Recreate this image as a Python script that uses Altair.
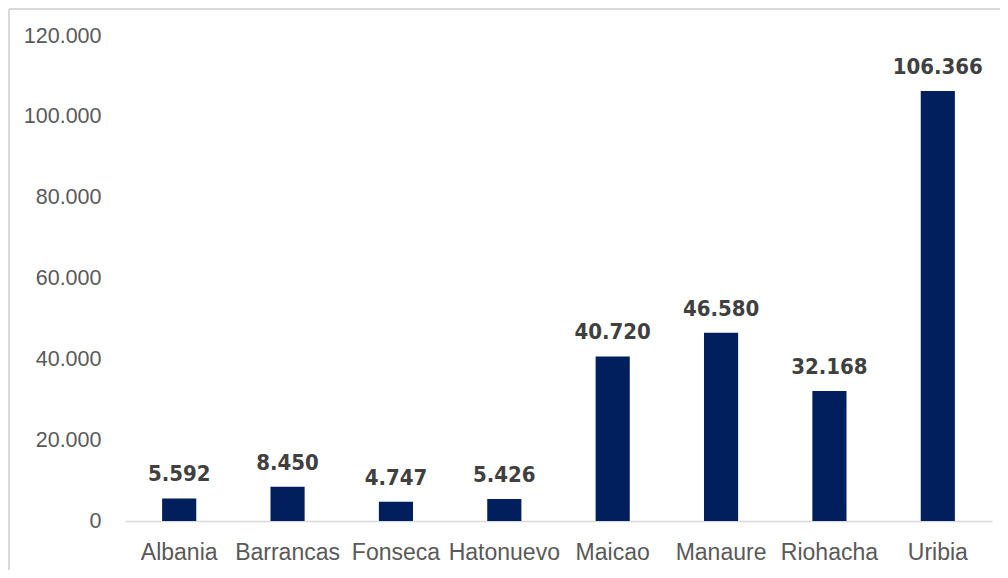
import altair as alt
import pandas as pd

municipios = ["Albania", "Barrancas", "Fonseca", "Hatonuevo", "Maicao", "Manaure", "Riohacha", "Uribia"]
valores = [5592, 8450, 4747, 5426, 40720, 46580, 32168, 106366]
etiquetas = ["5.592", "8.450", "4.747", "5.426", "40.720", "46.580", "32.168", "106.366"]

df = pd.DataFrame({"m": municipios, "v": valores, "lab": etiquetas})

x = alt.X("m:N", sort=municipios, title=None,
          scale=alt.Scale(paddingInner=0.685, paddingOuter=0.3425),
          axis=alt.Axis(labelAngle=0, labelFont="Liberation Sans", labelFontSize=23,
                        labelColor="#595959", labelPadding=20, ticks=False,
                        domainColor="#d9d9d9", domainWidth=1.5))
y = alt.Y("v:Q", title=None,
          scale=alt.Scale(domain=[0, 120000], nice=False),
          axis=alt.Axis(values=[0, 20000, 40000, 60000, 80000, 100000, 120000],
                        labelExpr="replace(format(datum.value, ',d'), ',', '.')",
                        labelFont="Liberation Sans", labelFontSize=21.5, labelColor="#595959",
                        labelPadding=24, ticks=False, domain=False, grid=False))

bars = alt.Chart(df).mark_bar(color="#001f5c").encode(x=x, y=y)

text = alt.Chart(df).mark_text(font="DejaVu Sans Condensed", fontWeight="bold", fontSize=22,
                               color="#404040", baseline="alphabetic", dy=-17).encode(
    x=alt.X("m:N", sort=municipios), y="v:Q", text="lab:N")

frame_left = alt.Chart(df).mark_rule(color="#d9d9d9", strokeWidth=2).encode(
    x=alt.value(-116), y=alt.value(-27), y2=alt.value(700))
frame_top = alt.Chart(df).mark_rule(color="#d9d9d9", strokeWidth=2).encode(
    x=alt.value(-116), x2=alt.value(900), y=alt.value(-27))

chart = alt.layer(frame_left, frame_top, bars, text).properties(
    width=867, height=485,
    autosize=alt.AutoSizeParams(type="none"),
    padding={"left": 117, "top": 28, "right": 8, "bottom": 49},
).configure_view(stroke=None)

chart.save("out.html", embed_options={"renderer": "svg", "actions": False})
